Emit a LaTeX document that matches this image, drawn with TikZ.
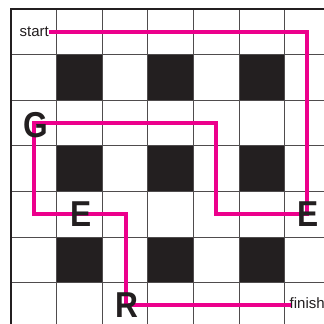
\documentclass[tikz,border=0pt]{standalone}
\usepackage{fontspec}
\setmainfont{Liberation Sans}
\definecolor{mag}{HTML}{EC008C}
\definecolor{ink}{HTML}{231F20}
\begin{document}
\begin{tikzpicture}[x=1pt,y=-1pt,
  gridline/.style={draw=ink!80, line width=0.9pt},
  border/.style={draw=ink, line width=2.2pt},
  blk/.style={fill=ink},
  route/.style={draw=mag, line width=3.6pt, line join=miter},
  letter/.style={font=\bfseries\fontsize{36}{36}\selectfont, text=ink, inner sep=0pt, xscale=0.88},
  small/.style={font=\fontsize{15}{15}\selectfont, text=ink, inner sep=0pt}]
\useasboundingbox (0,0) rectangle (324,324);
\fill[white] (0,0) rectangle (324,324);
\clip (0,0) rectangle (324,324);
% black squares
\foreach \r in {1,3,5}{
  \foreach \c in {1,3,5}{
    \fill[blk] (11+\c*45.6, 9+\r*45.6) rectangle ++(45.6,45.6);
  }
}
% grid lines
\foreach \i in {1,...,7}{
  \draw[gridline] (11+\i*45.6, 9) -- (11+\i*45.6, 340);
  \draw[gridline] (11, 9+\i*45.6) -- (340, 9+\i*45.6);
}
\draw[border] (11,340) -- (11,9) -- (340,9);
% texts
\node[small, anchor=base west] (start) at (19.5,36.5) {start};
\node[small, anchor=base west] (finish) at (289.5,308.7) {finish};
% route corners
\coordinate (p0) at (49,32);
\coordinate (p1) at (307,32);
\coordinate (p2) at (307,214);
\coordinate (p3) at (216,214);
\coordinate (p4) at (216,123);
\coordinate (p5) at (34,123);
\coordinate (p6) at (34,214);
\coordinate (p7) at (126,214);
\coordinate (p8) at (126,305);
\coordinate (p9) at (291,305);
\draw[route] (p0) -- (p1) -- (p2) -- (p3) -- (p4) -- (p5) -- (p6) -- (p7) -- (p8) -- (p9);
% letters
\node[letter] (G) at (36,125) {G};
\node[letter] (E1) at (81.5,214) {E};
\node[letter] (E2) at (308,214) {E};
\node[letter] (R) at (127,305.5) {R};
\end{tikzpicture}
\end{document}
